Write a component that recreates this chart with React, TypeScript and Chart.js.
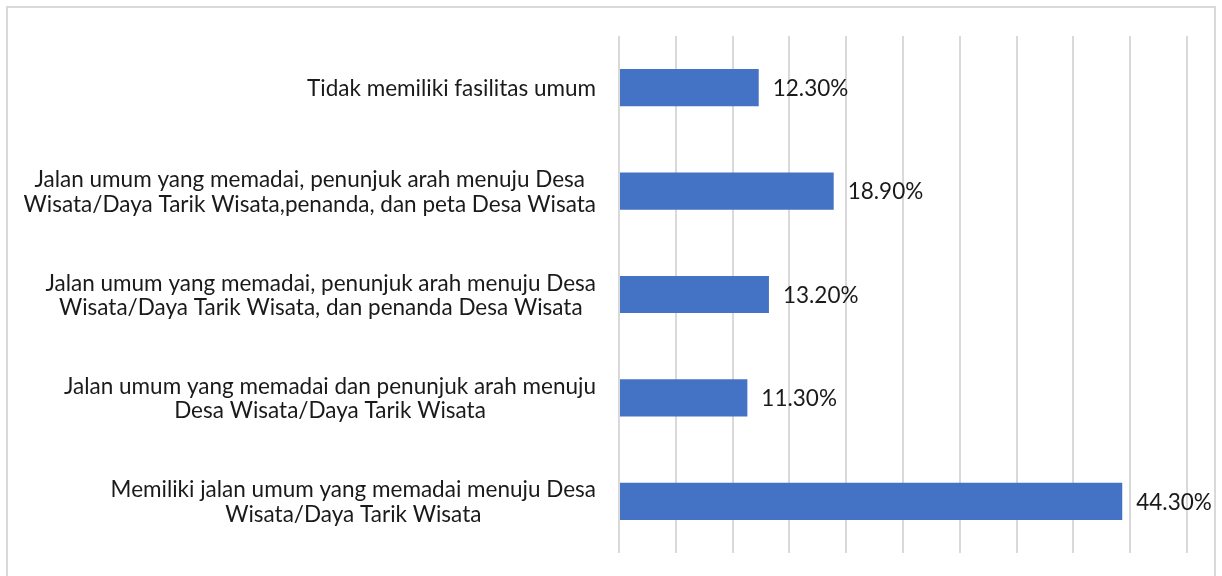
import React, { useEffect, useRef } from "react";
import { Chart, registerables } from "chart.js";

Chart.register(...registerables);

const categories: string[][] = [
  ["Tidak memiliki fasilitas umum"],
  ["Jalan umum yang memadai, penunjuk arah menuju Desa", "Wisata/Daya Tarik Wisata,penanda, dan peta Desa Wisata"],
  ["Jalan umum yang memadai, penunjuk arah menuju Desa", "Wisata/Daya Tarik Wisata, dan penanda Desa Wisata"],
  ["Jalan umum yang memadai dan penunjuk arah menuju", "Desa Wisata/Daya Tarik Wisata"],
  ["Memiliki jalan umum yang memadai menuju Desa", "Wisata/Daya Tarik Wisata"],
];
const values: number[] = [12.3, 18.9, 13.2, 11.3, 44.3];
const valueLabels: string[] = ["12.30%", "18.90%", "13.20%", "11.30%", "44.30%"];
const axisMin = 0;
const axisMax = 50;
const axisStep = 5;

const FONT = '22.5px Lato, "Open Sans", sans-serif';
const TEXT_COLOR = "#1a1a1a";

export default function App() {
  const ref = useRef<HTMLCanvasElement | null>(null);

  useEffect(() => {
    if (!ref.current) return;

    const borderPlugin = {
      id: "outerBorder",
      beforeDraw(chart: any) {
        const ctx = chart.ctx;
        ctx.save();
        ctx.fillStyle = "#ffffff";
        ctx.fillRect(0, 0, chart.width, chart.height);
        ctx.strokeStyle = "#d9d9d9";
        ctx.lineWidth = 2;
        ctx.strokeRect(7, 7, 1208, 620);
        ctx.restore();
      },
    };

    const labelPlugin = {
      id: "customLabels",
      afterDatasetsDraw(chart: any) {
        const ctx = chart.ctx;
        const yScale = chart.scales.y;
        const meta = chart.getDatasetMeta(0);
        ctx.save();
        ctx.font = FONT;
        ctx.fillStyle = TEXT_COLOR;
        ctx.textBaseline = "middle";
        const rightEdge = chart.chartArea.left - 23;
        const lineHeight = 24.5;
        categories.forEach((lines, i) => {
          const cy = yScale.getPixelForValue(i) + 1;
          const widths = lines.map((l) => ctx.measureText(l).width);
          const maxW = Math.max(...widths);
          const cx = rightEdge - maxW / 2;
          ctx.textAlign = "center";
          lines.forEach((l, j) => {
            const y = cy + (j - (lines.length - 1) / 2) * lineHeight;
            ctx.fillText(l, cx, y);
          });
        });
        ctx.textAlign = "left";
        meta.data.forEach((bar: any, i: number) => {
          ctx.fillText(valueLabels[i], bar.x + 14, bar.y + 1);
        });
        ctx.restore();
      },
    };

    const chart = new Chart(ref.current, {
      type: "bar",
      data: {
        labels: categories.map((c) => c.join(" ")),
        datasets: [
          {
            data: values,
            backgroundColor: "#4472C4",
            borderWidth: 0,
            categoryPercentage: 0.36,
            barPercentage: 1,
          },
        ],
      },
      options: {
        indexAxis: "y",
        responsive: false,
        animation: false,
        layout: { padding: { left: 619, right: 35, top: 36, bottom: 23 } },
        plugins: {
          legend: { display: false },
          tooltip: { enabled: false },
        },
        scales: {
          x: {
            min: axisMin,
            max: axisMax,
            ticks: { display: false, stepSize: axisStep },
            grid: { color: "#d9d9d9", lineWidth: 2, drawTicks: false },
            border: { display: false },
          },
          y: {
            display: false,
          },
        },
      },
      plugins: [borderPlugin, labelPlugin],
    });

    return () => chart.destroy();
  }, []);

  return (
    <div style={{ position: "fixed", left: 0, top: 0, width: 1222, height: 576, background: "#fff" }}>
      <canvas ref={ref} width={1222} height={576} style={{ display: "block" }} />
    </div>
  );
}
